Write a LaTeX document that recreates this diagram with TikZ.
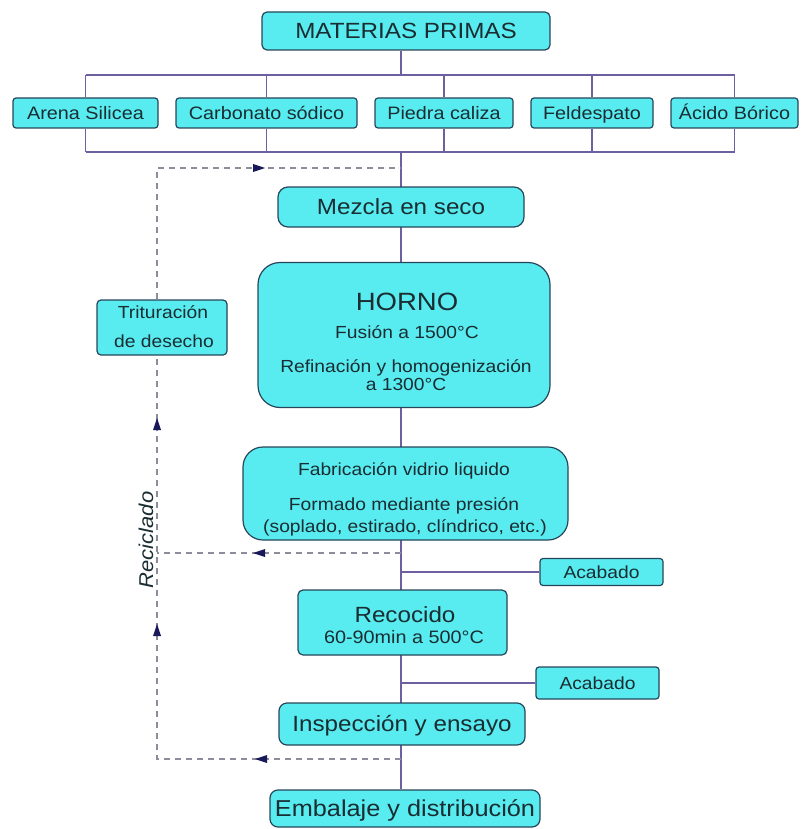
\documentclass[tikz,border=0pt]{standalone}
\usepackage{fontspec}
\setmainfont{Liberation Sans}[FakeStretch=1.1]
\pgfdeclarelayer{bg}
\pgfsetlayers{bg,main}
\definecolor{boxfill}{RGB}{88,236,240}
\definecolor{boxline}{RGB}{40,70,90}
\definecolor{txt}{RGB}{25,45,50}
\definecolor{linec}{RGB}{110,95,160}
\definecolor{dashc}{RGB}{140,140,155}
\definecolor{tipc}{RGB}{25,25,90}
\newcommand\fsz[2]{\fontsize{#1}{#2}\selectfont}
\begin{document}
\begin{tikzpicture}[x=1pt,y=-1pt,
  box/.style={draw=boxline, fill=boxfill, line width=1.2pt, text=txt, inner sep=0pt, align=center},
  fs/.style={font=\fsz{#1}{#1}, text height=0.916*#1pt, text depth=0.2*#1pt},
  conn/.style={draw=linec, line width=1.2pt},
  recy/.style={draw=dashc, line width=1.2pt, dash pattern=on 6pt off 5pt},
  tiptri/.style={fill=tipc},
  lbl/.style={text=txt, anchor=base, inner sep=0pt},
  row/.style={box, minimum height=30pt, rounded corners=3pt, fs=18}]
\useasboundingbox (0,0) rectangle (800,829);

% top
\node[box, minimum width=288pt, minimum height=38pt, rounded corners=5pt, fs=22] (mp) at (406,31) {MATERIAS PRIMAS};
\node[row, minimum width=145pt] (arena) at (85.5,113) {Arena Silicea};
\node[row, minimum width=181pt] (carb) at (266.5,113) {Carbonato sódico};
\node[row, minimum width=138pt] (piedra) at (444,113) {Piedra caliza};
\node[row, minimum width=122pt] (feld) at (592,113) {Feldespato};
\node[row, minimum width=127pt] (acido) at (734.5,113) {Ácido Bórico};

\coordinate (busT) at (401,75);
\coordinate (busB) at (401,152);

% main column
\node[box, minimum width=246pt, minimum height=40pt, rounded corners=10pt, fs=22] (mezcla) at (401,207) {Mezcla en seco};
\node[box, minimum width=292pt, minimum height=145pt, rounded corners=22pt] (horno) at (404,335) {};
\node[lbl, font=\fsz{25}{30}] at (407,310) {HORNO};
\node[lbl, font=\fsz{17.5}{21}] at (407,338) {Fusión a 1500°C};
\node[lbl, font=\fsz{17.5}{21}] at (406,372) {Refinación y homogenización};
\node[lbl, font=\fsz{17.5}{21}] at (406,390) {a 1300°C};

\node[box, minimum width=130pt, minimum height=55pt, rounded corners=4pt] (trit) at (162,327.5) {};
\node[lbl, font=\fsz{17.5}{21}] at (163,318) {Trituración};
\node[lbl, font=\fsz{17.5}{21}] at (164,347) {de desecho};

\node[box, minimum width=325pt, minimum height=93pt, rounded corners=20pt] (fab) at (405.5,493.5) {};
\node[lbl, font=\fsz{17.5}{21}] at (404,475) {Fabricación vidrio liquido};
\node[lbl, font=\fsz{17.5}{21}] at (404,510) {Formado mediante presión};
\node[lbl, font=\fsz{17.5}{21}] at (405,532) {(soplado, estirado, clíndrico, etc.)};

\node[box, minimum width=123pt, minimum height=27pt, rounded corners=3pt, fs=17.5] (acab1) at (601.5,572) {Acabado};

\node[box, minimum width=209pt, minimum height=65pt, rounded corners=5pt] (rec) at (402.5,622.5) {};
\node[lbl, font=\fsz{22}{26}] at (405,622) {Recocido};
\node[lbl, font=\fsz{18}{21}] at (404,643) {60-90min a 500°C};

\node[box, minimum width=123pt, minimum height=32pt, rounded corners=3pt, fs=17.5] (acab2) at (597.5,683) {Acabado};

\node[box, minimum width=246pt, minimum height=42pt, rounded corners=8pt, fs=22] (insp) at (402,724) {Inspección y ensayo};
\node[box, minimum width=270pt, minimum height=37pt, rounded corners=8pt, fs=23] (emb) at (405,808.5) {Embalaje y distribución};

\node[text=txt, rotate=90, inner sep=0pt, font=\fsz{20}{24}\itshape] (recl) at (146,540) {Reciclado};

% recycle coordinates
\coordinate (m0) at (401,168);
\coordinate (c0) at (157,168);
\coordinate (m2) at (401,553);
\coordinate (c2) at (157,553);
\coordinate (m3) at (401,759);
\coordinate (c3) at (157,759);

\begin{pgfonlayer}{bg}
  \draw[conn] (mp.south -| busT) -- (busT);
  \draw[conn] (arena.north |- busT) -- (acido.north |- busT);
  \draw[conn] (arena.south |- busB) -- (acido.south |- busB);
  \foreach \n in {arena,carb,piedra,feld,acido}{
    \draw[conn] (\n.north |- busT) -- (\n.north);
    \draw[conn] (\n.south) -- (\n.south |- busB);
  }
  \draw[conn] (busB) -- (emb.north -| busB);
  \draw[conn] (acab1.west) -- (acab1.west -| busB);
  \draw[conn] (acab2.west) -- (acab2.west -| busB);
  \draw[recy] (m3) -- (c3) -- (c0) -- (m0);
  \draw[recy] (m2) -- (c2);
\end{pgfonlayer}

% arrow tips
\fill[tiptri] (265,168) -- (253,164) -- (253,172) -- cycle;
\fill[tiptri] (253,553) -- (265,549) -- (265,557) -- cycle;
\fill[tiptri] (255,759) -- (267,755) -- (267,763) -- cycle;
\fill[tiptri] (157,418) -- (153,430) -- (161,430) -- cycle;
\fill[tiptri] (157,624) -- (153,636) -- (161,636) -- cycle;
\end{tikzpicture}
\end{document}
